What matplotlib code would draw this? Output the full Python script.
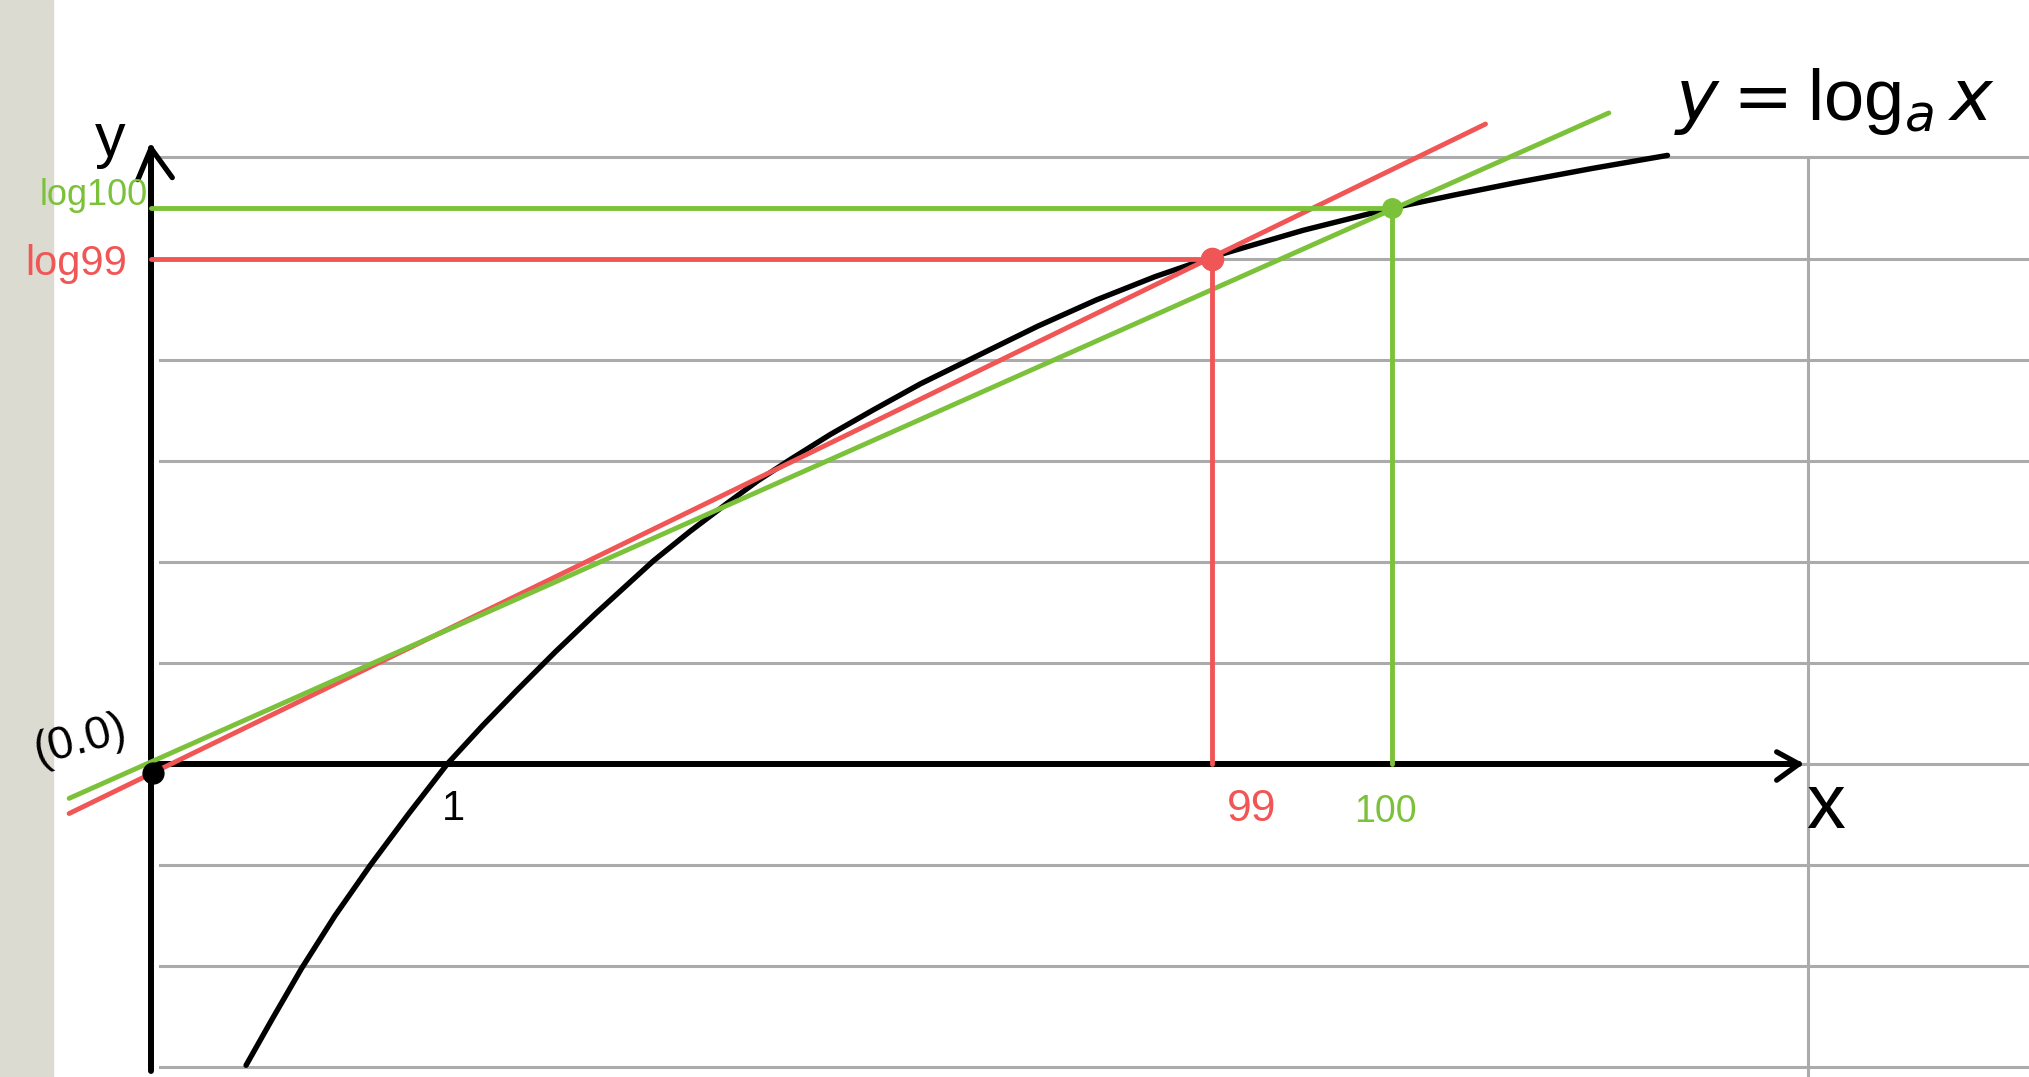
import matplotlib
matplotlib.use("Agg")
import matplotlib.pyplot as plt

# hand-drawn sketch of y = log_a x, in grid units (one ruled line = 1)
curve_x = [0.94, 1.20, 1.49, 1.82, 2.17, 2.55, 2.93, 3.28, 3.62, 4.00,
           4.40, 4.97, 5.33, 5.70, 6.00, 6.32, 6.72, 7.14, 7.61, 8.20,
           8.77, 9.35, 9.93, 10.51, 11.40, 12.28, 12.90, 13.50, 14.25, 15.00]
curve_y = [-2.98, -2.52, -2.02, -1.50, -1.00, -0.49, 0.00, 0.38, 0.73, 1.11,
           1.49, 2.01, 2.30, 2.58, 2.80, 3.01, 3.26, 3.50, 3.76, 4.05,
           4.33, 4.59, 4.82, 5.02, 5.28, 5.50, 5.63, 5.75, 5.89, 6.02]

x99, x100 = 10.49, 12.28
log99, log100 = 5.0, 5.50

red_line_x = [-0.81, 13.20]
red_line_y = [-0.49, 6.33]
green_line_x = [-0.81, 14.42]
green_line_y = [-0.34, 6.44]

ruled_rows = [-3, -2, -1, 0, 1, 2, 3, 4, 5, 6]
margin_x = 16.39

RED = '#f15656'
GREEN = '#7cc13a'
GRAY = '#ababab'

plt.rcParams['font.family'] = ['Liberation Sans', 'DejaVu Sans']

fig = plt.figure(figsize=(20.29, 10.77), dpi=100)
ax = fig.add_axes([0, 0, 1, 1])
ax.set_xlim(-1.494, 18.576)
ax.set_ylim(-3.096, 7.557)
ax.axis('off')

# notebook paper
ax.axvspan(-1.494, -0.97, color='#dcdbd1', zorder=0)
for r in ruled_rows:
    ax.plot([0.09, 18.6], [r, r], color=GRAY, lw=2.2, zorder=1)
ax.plot([margin_x, margin_x], [6, -3.2], color=GRAY, lw=2.2, zorder=1)

# axes with open arrowheads
ax.plot([0, 0], [-3.04, 6.09], color='black', lw=4.3, solid_capstyle='round', zorder=3)
ax.plot([0, 16.30], [0, 0], color='black', lw=4.3, solid_capstyle='round', zorder=3)
ax.plot([-0.13, 0, 0.21], [5.78, 6.09, 5.80], color='black', lw=3.8,
        solid_capstyle='round', solid_joinstyle='round', zorder=3)
ax.plot([16.08, 16.30, 16.08], [0.12, 0, -0.16], color='black', lw=3.8,
        solid_capstyle='round', solid_joinstyle='round', zorder=3)

# curve
ax.plot(curve_x, curve_y, color='black', lw=3.9, solid_capstyle='round',
        solid_joinstyle='round', zorder=4)

# secant lines through the origin
ax.plot(red_line_x, red_line_y, color=RED, lw=3.5, solid_capstyle='round', zorder=5)
ax.plot(green_line_x, green_line_y, color=GREEN, lw=3.5, solid_capstyle='round', zorder=5)

# guides to the axes
ax.plot([0, x99], [log99, log99], color=RED, lw=3.5, solid_capstyle='round', zorder=5)
ax.plot([x99, x99], [0, log99], color=RED, lw=3.5, solid_capstyle='round', zorder=5)
ax.plot([0, x100], [log100, log100], color=GREEN, lw=3.5, solid_capstyle='round', zorder=5)
ax.plot([x100, x100], [0, log100], color=GREEN, lw=3.5, solid_capstyle='round', zorder=5)

ax.plot([x99], [log99], 'o', color=RED, ms=16, zorder=6)
ax.plot([x100], [log100], 'o', color=GREEN, ms=14, zorder=6)
ax.plot([0.02], [-0.09], 'o', color='black', ms=15, zorder=6)

# labels
ax.text(-0.40, 6.17, 'y', fontsize=44, ha='center', va='center', color='black')
ax.text(-0.57, 5.62, 'log100', fontsize=26, ha='center', va='center', color=GREEN)
ax.text(-0.74, 4.95, 'log99', fontsize=30, ha='center', va='center', color=RED)
ax.text(-0.70, 0.23, '(0.0)', fontsize=33, ha='center', va='center', rotation=15)
ax.text(2.99, -0.45, '1', fontsize=30, ha='center', va='center')
ax.text(10.89, -0.45, '99', fontsize=32, ha='center', va='center', color=RED)
ax.text(12.21, -0.47, '100', fontsize=27, ha='center', va='center', color=GREEN)
ax.text(16.56, -0.43, 'x', fontsize=56, ha='center', va='center')
ax.text(16.65, 6.55, r'$y = \mathregular{log}_a\, x$', fontsize=52,
        ha='center', va='center')

fig.savefig('out.png', dpi=100)
